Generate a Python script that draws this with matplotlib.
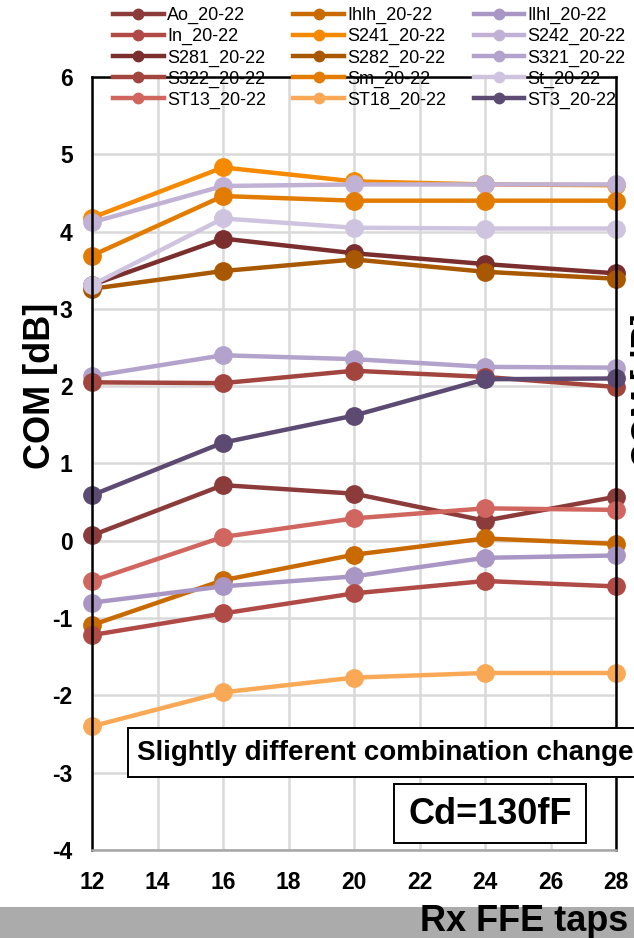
import matplotlib
matplotlib.use("Agg")
import matplotlib.pyplot as plt
from matplotlib.patches import Rectangle

plt.rcParams["font.family"] = ["Liberation Sans", "DejaVu Sans"]
plt.rcParams["axes.unicode_minus"] = False

# ---------------------------------------------------------------------------
# Data
# ---------------------------------------------------------------------------
taps = [12, 16, 20, 24, 28]

names = ["Ao", "Ihlh", "Ilhl", "In", "S241", "S242", "S281", "S282",
         "S321", "S322", "Sm", "St", "ST13", "ST18", "ST3"]

com_ao   = [0.07, 0.72, 0.61, 0.26, 0.57]
com_ihlh = [-1.09, -0.51, -0.18, 0.03, -0.04]
com_ilhl = [-0.80, -0.59, -0.46, -0.22, -0.19]
com_in   = [-1.22, -0.94, -0.68, -0.52, -0.59]
com_s241 = [4.18, 4.83, 4.65, 4.61, 4.60]
com_s242 = [4.12, 4.59, 4.61, 4.61, 4.61]
com_s281 = [3.31, 3.91, 3.72, 3.58, 3.46]
com_s282 = [3.26, 3.49, 3.64, 3.48, 3.39]
com_s321 = [2.13, 2.40, 2.35, 2.25, 2.24]
com_s322 = [2.05, 2.04, 2.20, 2.12, 1.99]
com_sm   = [3.69, 4.46, 4.40, 4.40, 4.40]
com_st   = [3.31, 4.17, 4.05, 4.04, 4.04]
com_st13 = [-0.52, 0.05, 0.29, 0.42, 0.40]
com_st18 = [-2.40, -1.96, -1.77, -1.71, -1.71]
com_st3  = [0.59, 1.27, 1.62, 2.09, 2.10]

series = [com_ao, com_ihlh, com_ilhl, com_in, com_s241, com_s242, com_s281,
          com_s282, com_s321, com_s322, com_sm, com_st, com_st13, com_st18,
          com_st3]

colors = ["#8B3B3A", "#C86A00", "#A996C5", "#B04A46", "#F58A00", "#C0B1D5",
          "#7A2E2E", "#A85800", "#B3A2CC", "#A3453F", "#E27C00", "#CFC4DF",
          "#D0665F", "#F9A955", "#5C4A73"]

W, H = 634, 938


def fx(px):
    return px / W


def fy(py):
    return 1 - py / H


fig = plt.figure(figsize=(W / 100, H / 100), dpi=100)

# grey strip of the slide below the chart
fig.patches.append(Rectangle((0, 0), 1, fy(907), transform=fig.transFigure,
                             facecolor="#ABABAB", edgecolor="none", zorder=0))

ax = fig.add_axes([fx(92), fy(850), fx(616 - 92), (850 - 77) / H])

handles = []
for name, vals, c in zip(names, series, colors):
    h, = ax.plot(taps, vals, "-o", color=c, lw=3.2, ms=12.5,
                 label=f"{name}_20-22", clip_on=False)
    handles.append(h)

ax.set_xlim(12, 28)
ax.set_ylim(-4, 6)
ax.set_xticks(range(12, 29, 2))
ax.set_yticks(range(-4, 7))
ax.grid(True, color="#D9D9D9", lw=1.8)
ax.set_axisbelow(True)
ax.tick_params(length=0, labelsize=16.5)
ax.tick_params(axis="x", pad=15)
ax.tick_params(axis="y", pad=14)
for lab in ax.get_xticklabels() + ax.get_yticklabels():
    lab.set_fontweight("bold")
for side in ["left", "right", "top"]:
    ax.spines[side].set_linewidth(1.8)
    ax.spines[side].set_color("black")
ax.spines["bottom"].set_color("#A6A6A6")
ax.spines["bottom"].set_linewidth(1.8)

ax.set_ylabel("COM [dB]", fontsize=26, fontweight="bold")
ax.yaxis.set_label_coords(-0.064, 0.6)

# legend: 3 columns, filled row by row like the original
order = [i for col in range(3) for i in range(col, len(handles), 3)]
fig.legend([handles[i] for i in order], [handles[i].get_label() for i in order],
           ncol=3, loc="upper left", bbox_to_anchor=(fx(104), fy(-2)),
           frameon=False, fontsize=13, handlelength=2.8, handletextpad=0.2,
           columnspacing=1.5, labelspacing=0.22, borderpad=0, markerscale=0.6)

# annotation boxes
fig.patches.append(Rectangle((fx(128), fy(777)), fx(700 - 128), (777 - 728) / H,
                             transform=fig.transFigure, facecolor="white",
                             edgecolor="black", lw=1.4, zorder=5))
fig.text(fx(137), fy(753), "Slightly different combination change",
         fontsize=20, fontweight="bold", va="center", ha="left", zorder=6)

fig.patches.append(Rectangle((fx(394), fy(843)), fx(586 - 394), (843 - 784) / H,
                             transform=fig.transFigure, facecolor="white",
                             edgecolor="black", lw=1.4, zorder=5))
fig.text(fx(490), fy(814), "Cd=130fF", fontsize=26, fontweight="bold",
         va="center", ha="center", zorder=6)

# slide texts around the crop
fig.text(fx(628), fy(921), "Rx FFE taps", fontsize=26, fontweight="bold",
         va="center", ha="right")
fig.text(fx(50), fy(938), "Rx FFE taps", fontsize=26, fontweight="bold",
         va="top", ha="left")
fig.text(fx(631), fy(390), "COM [dB]", fontsize=24, fontweight="bold",
         rotation=90, va="center", ha="left")

fig.savefig("out.png", dpi=100)
